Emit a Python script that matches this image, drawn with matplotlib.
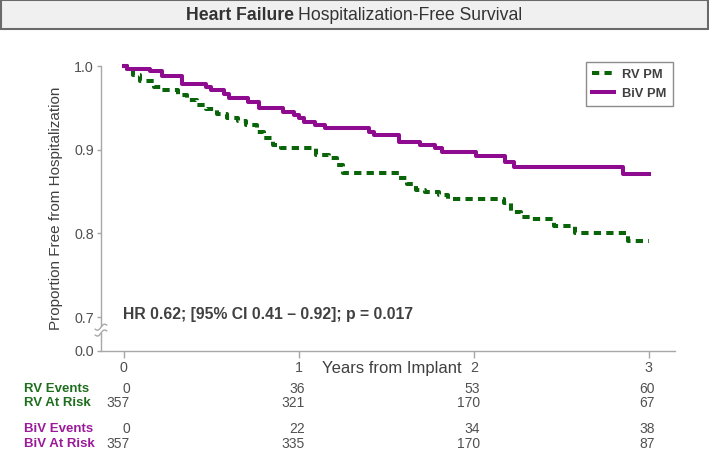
import matplotlib
matplotlib.use("Agg")
import matplotlib.pyplot as plt
import matplotlib.transforms as mtransforms
from matplotlib.patches import Rectangle
import numpy as np

plt.rcParams['font.family'] = ['Liberation Sans', 'DejaVu Sans']

# ---------------- data ----------------
rv_time = [0, 0.02, 0.05, 0.09, 0.17, 0.22, 0.31, 0.36, 0.42, 0.47, 0.53, 0.59, 0.65, 0.70,
           0.76, 0.80, 0.85, 0.90, 1.10, 1.17, 1.22, 1.25, 1.57, 1.62, 1.67, 1.72, 1.80,
           1.85, 2.17, 2.21, 2.27, 2.32, 2.46, 2.58, 2.88, 3.0]
rv_surv = [1.0, 0.994, 0.989, 0.982, 0.975, 0.971, 0.965, 0.959, 0.953, 0.949, 0.943, 0.938,
           0.934, 0.929, 0.921, 0.914, 0.906, 0.902, 0.894, 0.890, 0.882, 0.8725, 0.866,
           0.859, 0.852, 0.850, 0.846, 0.841, 0.836, 0.826, 0.820, 0.817, 0.809, 0.801,
           0.791, 0.791]
biv_time = [0, 0.02, 0.15, 0.22, 0.33, 0.47, 0.50, 0.57, 0.60, 0.71, 0.77, 0.91, 0.97, 1.00,
            1.03, 1.09, 1.15, 1.40, 1.43, 1.57, 1.69, 1.78, 1.82, 2.01, 2.18, 2.23, 2.85, 3.0]
biv_surv = [1.0, 0.9964, 0.994, 0.988, 0.979, 0.975, 0.971, 0.967, 0.962, 0.957, 0.950,
            0.945, 0.9415, 0.9375, 0.933, 0.9295, 0.9256, 0.9215, 0.9176, 0.9096, 0.9056,
            0.9016, 0.897, 0.8925, 0.8857, 0.8797, 0.871, 0.871]

x_ticks = [0, 1, 2, 3]
y_ticks = [0.7, 0.8, 0.9, 1.0]
y_tick_labels = ['0.7', '0.8', '0.9', '1.0']
y_zero_label = '0.0'

rv_events = [0, 36, 53, 60]
rv_at_risk = [357, 321, 170, 67]
biv_events = [0, 22, 34, 38]
biv_at_risk = [357, 335, 170, 87]

title_bold = 'Heart Failure '
title_rest = 'Hospitalization-Free Survival'
hr_text = 'HR 0.62; [95% CI 0.41 \u2013 0.92]; p = 0.017'

# ---------------- style ----------------
W, H = 709, 450
GREEN = '#0a640a'
GREEN_T = '#1e6e1e'
PURPLE = '#8e0a8e'
PURPLE_T = '#9a1a9a'
GREY = '#404040'
SPINE = '#a8a8a8'

fig = plt.figure(figsize=(W / 100, H / 100), dpi=100)
ax = fig.add_axes([101 / W, 1 - 351 / H, (675 - 101) / W, (351 - 66) / H])

y_bottom = 0.7 - 34 / 840.0
ax.set_xlim(-0.131, 3.149)
ax.set_ylim(y_bottom, 1.0)

ax.step(rv_time, rv_surv, where='post', color=GREEN, lw=2.9, dashes=(1.8, 1.3),
        clip_on=False, label='RV PM', zorder=4)
ax.step(biv_time, biv_surv, where='post', color=PURPLE, lw=2.9, clip_on=False,
        label='BiV PM', zorder=5)

for s in ['top', 'right']:
    ax.spines[s].set_visible(False)
for s in ['left', 'bottom']:
    ax.spines[s].set_color(SPINE)
    ax.spines[s].set_linewidth(1.0)

ax.set_yticks([y_bottom] + y_ticks)
ax.set_yticklabels([y_zero_label] + y_tick_labels)
ax.set_xticks(x_ticks)
ax.set_xticklabels([str(v) for v in x_ticks])
ax.tick_params(axis='y', length=3, width=1, color=SPINE, labelsize=10.3, labelcolor='#505050', pad=2)
ax.tick_params(axis='x', length=5, width=1, color=SPINE, labelsize=10.3, labelcolor='#505050',
               direction='out', pad=2)

# axis break
tb = mtransforms.blended_transform_factory(ax.transAxes, ax.transData)
yb1, yb2 = 0.688, 0.681
ax.fill_between([-0.004, 0.004], [yb2, yb2], [yb1, yb1], color='white',
                transform=tb, clip_on=False, zorder=6, lw=0)
xs = np.linspace(-0.010, 0.010, 30)
for yb in (yb1, yb2):
    ax.plot(xs, yb + 0.0022 * np.sin(xs / 0.010 * np.pi) + xs * 0.25, color=SPINE, lw=1,
            transform=tb, clip_on=False, zorder=7)

ax.set_ylabel('Proportion Free from Hospitalization', fontsize=11, color=GREY, labelpad=8)
fig.text(392 / W, 1 - 369 / H, 'Years from Implant', fontsize=12, color=GREY,
         ha='center', va='center')

ax.text(123 / W, 1 - 315 / H, hr_text, transform=fig.transFigure, fontsize=11.3,
        fontweight='bold', color=GREY, ha='left', va='center')

leg = ax.legend(loc='upper right', bbox_to_anchor=(673 / W, 1 - 62 / H),
                bbox_transform=fig.transFigure, borderaxespad=0, fancybox=False,
                frameon=True, prop={'weight': 'bold', 'size': 9.3}, handlelength=1.7,
                labelspacing=0.55, borderpad=0.5, handletextpad=0.6)
leg.get_frame().set_edgecolor('#707070')
leg.get_frame().set_linewidth(1.0)
for t in leg.get_texts():
    t.set_color(GREY)

# risk table
tr = mtransforms.blended_transform_factory(ax.transData, fig.transFigure)
rows = [('RV Events', rv_events, GREEN_T, 389),
        ('RV At Risk', rv_at_risk, GREEN_T, 403),
        ('BiV Events', biv_events, PURPLE_T, 429),
        ('BiV At Risk', biv_at_risk, PURPLE_T, 444)]
for label, vals, col, ypx in rows:
    fig.text(24 / W, 1 - ypx / H, label, color=col, fontweight='bold', fontsize=9.5,
             ha='left', va='center')
    for xt, v in zip(x_ticks, vals):
        ax.text(xt + 0.034, 1 - ypx / H, str(v), transform=tr, color='#505050', fontsize=10,
                ha='right', va='center')

# title box
fig.patches.append(Rectangle((0.5 / W, 1 - 29 / H), (W - 1.5) / W, 28.5 / H,
                             transform=fig.transFigure, facecolor='#f0f0f0',
                             edgecolor='#6a6a6a', lw=1.5, zorder=0))
t1 = fig.text(0, 1 - 15 / H, title_bold, fontsize=12.7, fontweight='bold', color='#333333',
              ha='left', va='center')
t2 = fig.text(0, 1 - 15 / H, title_rest, fontsize=12.7, color='#333333', ha='left',
              va='center')
fig.canvas.draw()
r = fig.canvas.get_renderer()
w1 = t1.get_window_extent(r).width
w2 = t2.get_window_extent(r).width
x0 = 354 - (w1 + w2) / 2
t1.set_x(x0 / W)
t2.set_x((x0 + w1) / W)

fig.savefig('out.png', dpi=100)
